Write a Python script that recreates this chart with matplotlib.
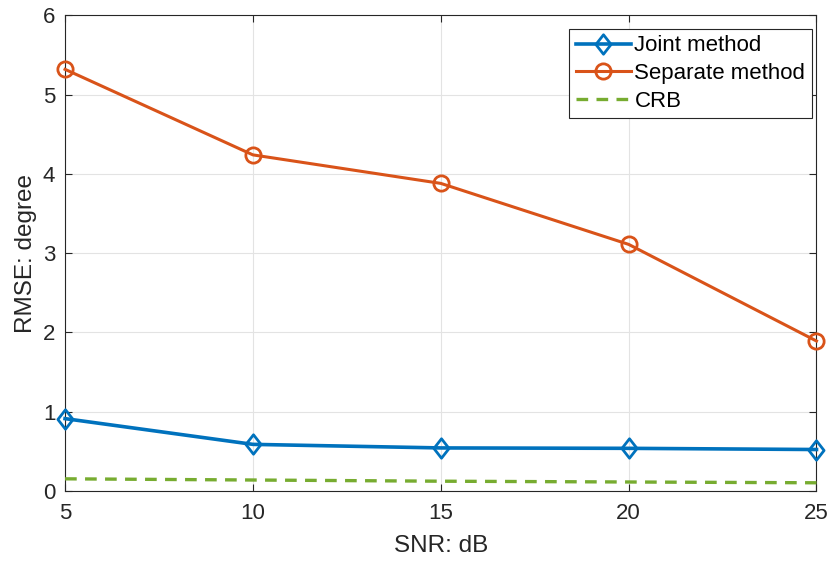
import numpy as np
import matplotlib
matplotlib.use("Agg")
import matplotlib.pyplot as plt
from matplotlib.path import Path

# data
snr = [5, 10, 15, 20, 25]
joint = [0.91, 0.585, 0.54, 0.535, 0.52]
separate = [5.32, 4.24, 3.88, 3.11, 1.89]
crb = [0.15, 0.135, 0.12, 0.11, 0.10]

BLUE = "#0072BD"
ORANGE = "#D95319"
GREEN = "#77AC30"
DARK = "#262626"

plt.rcParams["font.family"] = ["Liberation Sans", "DejaVu Sans"]

# MATLAB-style diamond (wider than matplotlib 'd')
diamond = Path([(0, 1), (0.78, 0), (0, -1), (-0.78, 0), (0, 1)],
               [Path.MOVETO, Path.LINETO, Path.LINETO, Path.LINETO, Path.CLOSEPOLY])

fig = plt.figure(figsize=(8.34, 5.69), dpi=100)
ax = fig.add_axes([0.078, 0.1376, 0.901, 0.8352])

ax.plot(snr, joint, color=BLUE, lw=2.6, marker=diamond, ms=14,
        mfc="none", mew=2.0, label="Joint method", clip_on=False, zorder=4)
ax.plot(snr, separate, color=ORANGE, lw=2.2, marker="o", ms=11,
        mfc="none", mew=2.0, label="Separate method", clip_on=False, zorder=4)
ax.plot(snr, crb, color=GREEN, lw=2.4, ls=(0, (3.5, 2.5)), label="CRB",
        clip_on=False, zorder=3)

ax.set_xlim(5, 25)
ax.set_ylim(0, 6)
ax.set_xticks(snr)
ax.set_yticks(range(0, 7))
ax.grid(True, color="#e3e3e3", lw=0.8)
ax.set_axisbelow(True)

ax.tick_params(direction="in", top=True, right=True, length=5,
               labelsize=16, colors=DARK, width=0.8)
ax.tick_params(axis="x", pad=9)
ax.tick_params(axis="y", pad=7)
for s in ax.spines.values():
    s.set_color(DARK)
    s.set_linewidth(0.8)

ax.set_xlabel("SNR: dB", fontsize=17.5, color=DARK, labelpad=8)
ax.set_ylabel("RMSE: degree", fontsize=17.5, color=DARK, labelpad=4)

leg = ax.legend(loc="upper right", bbox_to_anchor=(0.994, 0.972),
                fontsize=16, fancybox=False, framealpha=1, edgecolor=DARK,
                handlelength=2.5, handletextpad=0.15, borderpad=0.3,
                labelspacing=0.3, borderaxespad=0)
leg.get_frame().set_linewidth(0.8)

fig.savefig("out.png", dpi=100)
